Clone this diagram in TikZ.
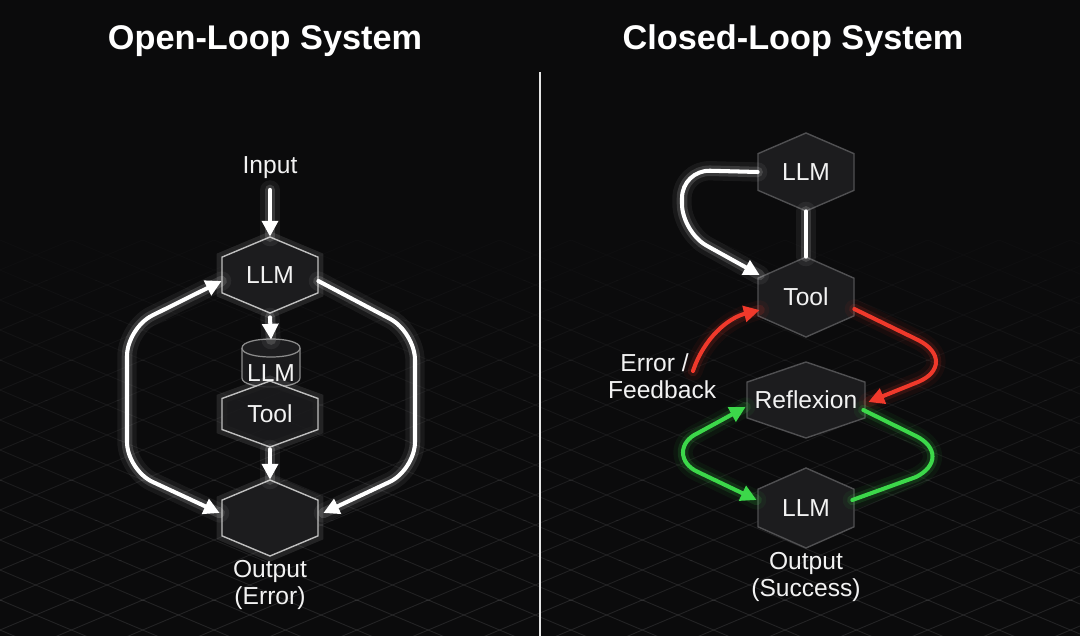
\documentclass[tikz,border=0pt]{standalone}
\usepackage{fontspec}
\setmainfont{Liberation Sans}
\usetikzlibrary{arrows.meta,calc}
\definecolor{bg}{HTML}{0B0B0C}
\definecolor{hexfill}{HTML}{1C1C1E}
\definecolor{hexedge}{HTML}{505052}
\definecolor{gridc}{HTML}{3A3A3C}
\definecolor{fbred}{HTML}{F0392B}
\definecolor{okgreen}{HTML}{3CD84A}
\definecolor{txt}{HTML}{F2F2F2}
\newcommand\hexshape[5]{%
  \path[#5] ({#1-#3},{#2-0.47*#4}) -- (#1,{#2-#4}) -- ({#1+#3},{#2-0.47*#4})
    -- ({#1+#3},{#2+0.47*#4}) -- (#1,{#2+#4}) -- ({#1-#3},{#2+0.47*#4}) -- cycle;}
\newcommand\hexnode[7]{%
  \hexshape{#2}{#3}{#4}{#5}{#6}%
  \node[hexlbl, minimum width={2*#4*0.02cm}, minimum height={2*#5*0.02cm}] (#1) at (#2,#3) {#7};}
\tikzset{
  >={Triangle[length=9pt,width=9pt]},
  glow/.style={draw=#1, line width=2.3pt, line cap=round, line join=round,
    preaction={draw=#1, line width=11pt, opacity=0.06, arrows=-, line cap=round, line join=round},
    preaction={draw=#1, line width=6pt, opacity=0.14, arrows=-, line cap=round, line join=round}},
  glow/.default=white,
  glowhex/.style={fill=hexfill, draw=white!75!black, line width=0.8pt,
    preaction={draw=white, line width=6pt, opacity=0.10}},
  darkhex/.style={fill=hexfill, draw=hexedge, line width=0.8pt},
  hexlbl/.style={text=txt, font=\fontsize{14}{16}\selectfont, inner sep=0pt},
  lbl/.style={text=txt, font=\fontsize{14}{15.5}\selectfont, align=center, inner sep=1pt},
  ttl/.style={text=white, font=\fontsize{19.5}{21}\selectfont\bfseries}
}
\begin{document}
\begin{tikzpicture}[x=0.02cm,y=-0.02cm]
\fill[bg] (0,0) rectangle (1080,636);
\useasboundingbox (0,0) rectangle (1080,636);
% grid
\foreach \b [evaluate=\b as \op using {0.08+0.05*(\b-6)}] in {6,...,15}{
  \begin{scope}
    \clip (0,{\b*40}) rectangle (1080,{\b*40+40});
    \foreach \k in {9,...,37}{\draw[gridc, line width=0.5pt, opacity=\op] (0,{\k*30}) -- (1080,{\k*30-454});}
    \foreach \k in {-7,...,22}{\draw[gridc, line width=0.5pt, opacity=\op] (0,{\k*30}) -- (1080,{\k*30+454});}
  \end{scope}
}
% divider
\draw[white!90!black, line width=1.1pt] (540,72) -- (540,636);
% titles
\node[ttl] (tleft) at (265,41) {Open-Loop System};
\node[ttl] (tright) at (793,41) {Closed-Loop System};

% ---------- left panel ----------
\node[lbl] (input) at (270,168) {Input};
\hexnode{lllm}{270}{275}{48}{38}{glowhex}{LLM}
% cylinder
\fill[hexfill, opacity=0.9] (242,348) -- (242,378) .. controls (242,390) and (300,390) .. (300,378) -- (300,348) -- cycle;
\draw[white!55!black, line width=0.7pt] (242,348) -- (242,378) .. controls (242,390) and (300,390) .. (300,378) -- (300,348);
\draw[white!55!black, line width=0.7pt, fill=hexfill] (242,348) .. controls (242,336) and (300,336) .. (300,348) .. controls (300,360) and (242,360) .. (242,348) -- cycle;
\hexnode{ltool}{270}{414}{48}{33}{glowhex, fill opacity=0.85}{Tool}
\node[hexlbl, minimum width=1.16cm, minimum height=0.96cm] (lcyl) at (271,364) {};
\node[hexlbl] (lcyltxt) at (271,373) {LLM};
\hexnode{lout}{270}{518}{48}{38}{glowhex}{}
\node[lbl] (louttxt) at (270,585) {Output\\(Error)};

\draw[glow, ->, shorten <=5pt] (input) -- (lllm.north);
\draw[glow, ->] (lllm.south) ++(0,4) -- (lcyl.north);
\draw[glow, ->] (ltool.south) ++(0,2) -- (lout.north);
\draw[glow, <->, rounded corners=16] ($(lout.west)+(-2,-5)$) -- (127,470) -- (127,328) -- ($(lllm.west)+(0,6)$);
\draw[glow, ->, rounded corners=16] ($(lllm.east)+(0,6)$) -- (415,332) -- (415,470) -- ($(lout.east)+(5,-5)$);

% ---------- right panel ----------
\hexnode{rllm}{806}{172}{48}{39}{darkhex}{LLM}
\hexnode{rtool}{806}{297}{48}{40}{darkhex}{Tool}
\hexnode{refl}{806}{400}{59}{38}{darkhex}{Reflexion}
\hexnode{rllm2}{806}{508}{48}{40}{darkhex}{LLM}
\node[lbl] (routtxt) at (806,577) {Output\\(Success)};
\node[lbl, align=left, anchor=west] (errfb) at (606,376) {\hspace{7pt}Error /\\Feedback};

\draw[glow] (rllm.south) -- (rtool.north);
\draw[glow, ->, rounded corners=16] (rllm.west) -- (682,170) -- (682,232) -- ($(rtool.west)+(2,-22)$);

\coordinate (fbstart) at (693,371);
\draw[glow=fbred, ->] (fbstart) .. controls (704,338) and (728,318) .. ($(rtool.west)+(2,13)$);
\draw[glow=fbred, ->] ($(rtool.east)+(0,12)$) -- (918,340) .. controls (942,352) and (942,372) .. (918,382) -- ($(refl.east)+(3,2)$);

\draw[glow=okgreen] ($(refl.east)+(-2,10)$) -- (916,436) .. controls (938,447) and (938,466) .. (916,477) -- ($(rllm2.east)+(-2,-8)$);
\draw[glow=okgreen, <->] ($(rllm2.west)+(-1,-8)$) -- (698,472) .. controls (678,463) and (678,442) .. (698,433) -- ($(refl.west)+(-1,7)$);
\end{tikzpicture}
\end{document}
